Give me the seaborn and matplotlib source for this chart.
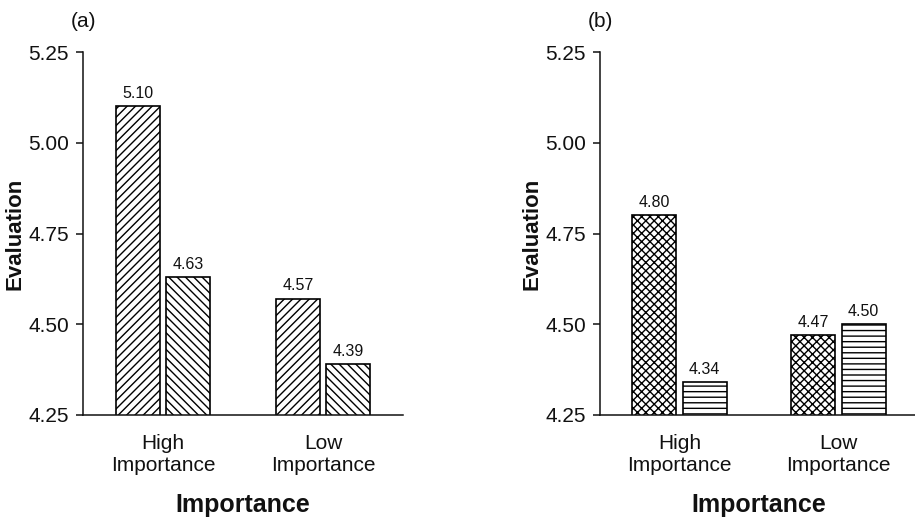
import matplotlib
matplotlib.use("Agg")
import matplotlib.pyplot as plt
import numpy as np
import pandas as pd
import seaborn as sns

# ---- data ----
categories = ["High\nImportance", "Low\nImportance"]
conditions = ["Condition 1", "Condition 2"]
values_a_1 = [5.10, 4.57]
values_a_2 = [4.63, 4.39]
values_b_1 = [4.80, 4.47]
values_b_2 = [4.34, 4.50]
yticks = [4.25, 4.50, 4.75, 5.00, 5.25]
panel_titles = ["(a)", "(b)"]
hatches_a = ["////", "\\\\\\\\"]
hatches_b = ["xxxx", "---"]

sns.set_style("ticks")
plt.rcParams["font.family"] = ["Liberation Sans", "DejaVu Sans"]
plt.rcParams["hatch.color"] = "black"
plt.rcParams["hatch.linewidth"] = 1.0

fig = plt.figure(figsize=(9.15, 5.2), dpi=100)
ax1 = fig.add_axes([83 / 915, 105 / 520, 320 / 915, 363 / 520])
ax2 = fig.add_axes([600 / 915, 105 / 520, 318 / 915, 363 / 520])


def make_df(v1, v2):
    return pd.DataFrame({
        "Importance": categories * 2,
        "Condition": [conditions[0]] * 2 + [conditions[1]] * 2,
        "Evaluation": list(v1) + list(v2),
    })


for ax, (v1, v2), hatches, title in [
    (ax1, (values_a_1, values_a_2), hatches_a, panel_titles[0]),
    (ax2, (values_b_1, values_b_2), hatches_b, panel_titles[1]),
]:
    df = make_df(v1, v2)
    sns.barplot(data=df, x="Importance", y="Evaluation", hue="Condition",
                hue_order=conditions, order=categories,
                palette=["white", "white"], edgecolor="black", linewidth=1.2,
                width=0.63, gap=0.12, legend=False, errorbar=None, ax=ax)
    for cont, h in zip(ax.containers, hatches):
        for p in cont.patches:
            p.set_hatch(h)
            p.set_edgecolor("black")
        ax.bar_label(cont, fmt="%.2f", padding=4, fontsize=11.5, color="#111111")
    ax.set_ylim(4.25, 5.25)
    ax.set_xlim(-0.5, 1.5)
    ax.set_yticks(yticks)
    ax.set_yticklabels([f"{t:.2f}" for t in yticks])
    ax.tick_params(axis="y", labelsize=15, length=5, width=1.1, pad=5, colors="#111111")
    ax.tick_params(axis="x", labelsize=15, length=0, pad=14, colors="#111111")
    sns.despine(ax=ax)
    for s in ["left", "bottom"]:
        ax.spines[s].set_linewidth(1.1)
        ax.spines[s].set_color("#111111")
    ax.set_ylabel("Evaluation", fontsize=16, fontweight="bold", color="#111111")
    ax.set_xlabel("Importance", fontsize=18, fontweight="bold", color="#111111")
    ax.yaxis.set_label_coords(-0.18, 0.5)
    ax.xaxis.set_label_coords(0.5, -0.215)
    ax.text(0.0, 1.085, title, transform=ax.transAxes, ha="center", va="center",
            fontsize=15, color="#111111")

fig.savefig("out.png", dpi=100)
